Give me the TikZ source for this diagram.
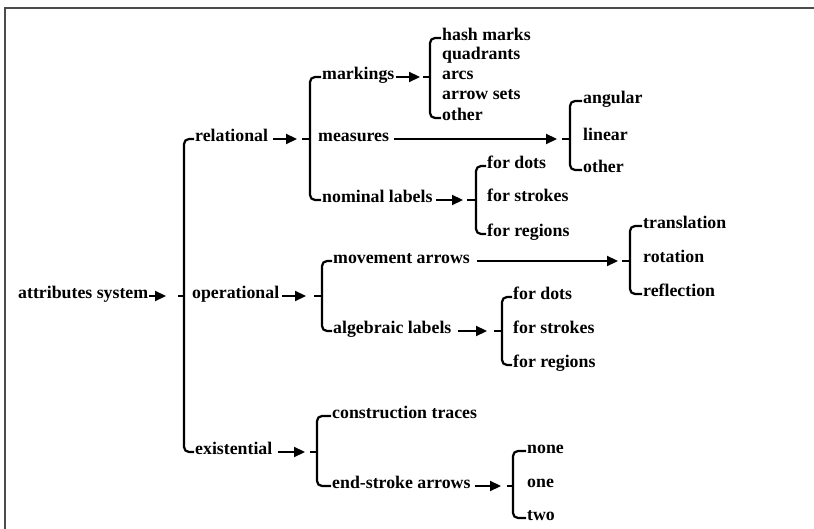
\documentclass[tikz,border=0pt]{standalone}
\usepackage{fontspec}
\setmainfont{Liberation Serif}
\usetikzlibrary{arrows.meta}

\tikzset{
  lbl/.style={anchor=mid west, inner xsep=1pt, inner ysep=1pt,
              font=\bfseries\fontsize{17.8}{20}\selectfont},
  arr/.style={line width=2.2pt, -{Triangle[length=11pt,width=10pt]}},
  tick/.style={line width=2.2pt},
  br/.style={line width=2.2pt, rounded corners=5pt},
  frame/.style={line width=2pt, draw=black!70}
}

\begin{document}
\begin{tikzpicture}[x=1pt,y=-1pt]
\useasboundingbox (0,0) rectangle (814,529);
% open frame, cut off at right and bottom
\draw[frame] (5,540) -- (5,8) -- (830,8);

% root and first level
\node[lbl] (attr) at (17,296) {attributes system};
\node[lbl] (rel)  at (194,139) {relational};
\node[lbl] (ope)  at (191,296) {operational};
\node[lbl] (exi)  at (194,452) {existential};

% second level
\node[lbl] (mark) at (321,77)  {markings};
\node[lbl] (meas) at (317,139) {measures};
\node[lbl] (nom)  at (321,200) {nominal labels};
\node[lbl] (mov)  at (332,261) {movement arrows};
\node[lbl] (alg)  at (332,331) {algebraic labels};
\node[lbl] (con)  at (331,416) {construction traces};
\node[lbl] (ends) at (331,486) {end-stroke arrows};

% leaves
\node[lbl] (mk1) at (441,38)  {hash marks};
\node[lbl] (mk2) at (441,57)  {quadrants};
\node[lbl] (mk3) at (441,77)  {arcs};
\node[lbl] (mk4) at (441,97)  {arrow sets};
\node[lbl] (mk5) at (441,118) {other};

\node[lbl] (ms1) at (582,101) {angular};
\node[lbl] (ms2) at (582,138) {linear};
\node[lbl] (ms3) at (582,170) {other};

\node[lbl] (nl1) at (486,166) {for dots};
\node[lbl] (nl2) at (486,199) {for strokes};
\node[lbl] (nl3) at (486,234) {for regions};

\node[lbl] (mv1) at (642,226) {translation};
\node[lbl] (mv2) at (642,260) {rotation};
\node[lbl] (mv3) at (642,294) {reflection};

\node[lbl] (al1) at (512,297) {for dots};
\node[lbl] (al2) at (512,331) {for strokes};
\node[lbl] (al3) at (512,365) {for regions};

\node[lbl] (es1) at (526,451) {none};
\node[lbl] (es2) at (526,485) {one};
\node[lbl] (es3) at (526,518) {two};

% arrow tips, tick starts and bracket spines
\coordinate (attrA) at (166,296); \coordinate (attrT) at (178,296); \coordinate (attrB) at (184,296);
\coordinate (relA)  at (297,139); \coordinate (relT)  at (302,139); \coordinate (relB)  at (310,139);
\coordinate (opeA)  at (306,296); \coordinate (opeT)  at (314,296); \coordinate (opeB)  at (322,296);
\coordinate (exiA)  at (305,452); \coordinate (exiT)  at (310,452); \coordinate (exiB)  at (317,452);
\coordinate (markA) at (420,77);  \coordinate (markT) at (423,77);  \coordinate (markB) at (430,77);
\coordinate (measA) at (557,139); \coordinate (measT) at (562,139); \coordinate (measB) at (570,139);
\coordinate (nomA)  at (463,200); \coordinate (nomT)  at (467,200); \coordinate (nomB)  at (476,200);
\coordinate (movA)  at (618,261); \coordinate (movT)  at (622,261); \coordinate (movB)  at (630,261);
\coordinate (algA)  at (487,331); \coordinate (algT)  at (494,331); \coordinate (algB)  at (502,331);
\coordinate (endsA) at (501,486); \coordinate (endsT) at (507,486); \coordinate (endsB) at (513,486);

% arrows
\draw[arr] (attr.mid east) -- (attrA);
\draw[arr] ([xshift=4pt]rel.mid east) -- (relA);
\draw[arr] ([xshift=2pt]ope.mid east) -- (opeA);
\draw[arr] ([xshift=4pt]exi.mid east) -- (exiA);
\draw[arr] (mark.mid east) -- (markA);
\draw[arr] ([xshift=4pt]meas.mid east) -- (measA);
\draw[arr] ([xshift=2pt]nom.mid east) -- (nomA);
\draw[arr] ([xshift=6pt]mov.mid east) -- (movA);
\draw[arr] ([xshift=5pt]alg.mid east) -- (algA);
\draw[arr] ([xshift=3pt]ends.mid east) -- (endsA);

% ticks
\foreach \p in {attr,rel,ope,exi,mark,meas,nom,mov,alg,ends}
  \draw[tick] (\p T) -- (\p B);

% brackets
\draw[br] (rel.mid west)  -| (attrB) |- (exi.mid west);
\draw[br] (mark.mid west) -| (relB)  |- (nom.mid west);
\draw[br] (mov.mid west)  -| (opeB)  |- (alg.mid west);
\draw[br] (con.mid west)  -| (exiB)  |- (ends.mid west);
\draw[br] (mk1.mid west)  -| (markB) |- (mk5.mid west);
\draw[br] (ms1.mid west)  -| (measB) |- (ms3.mid west);
\draw[br] (nl1.mid west)  -| (nomB)  |- (nl3.mid west);
\draw[br] (mv1.mid west)  -| (movB)  |- (mv3.mid west);
\draw[br] (al1.mid west)  -| (algB)  |- (al3.mid west);
\draw[br] (es1.mid west)  -| (endsB) |- (es3.mid west);
\end{tikzpicture}
\end{document}
